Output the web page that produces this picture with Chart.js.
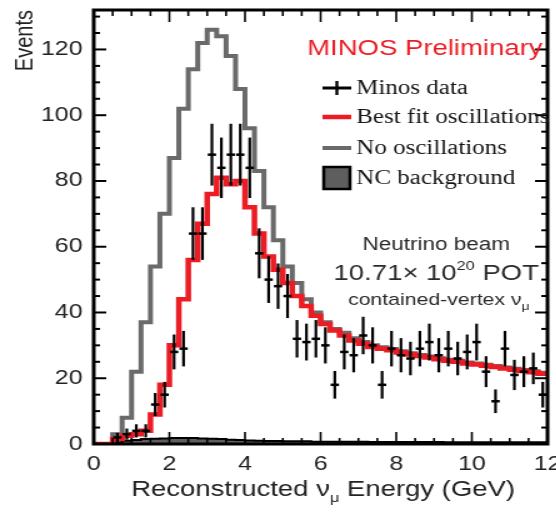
<!DOCTYPE html>
<html>
<head>
<meta charset="utf-8">
<script src="https://cdn.jsdelivr.net/npm/chart.js"></script>
<style>
    html, body { margin: 0; padding: 0; overflow: hidden; background: #fff; }
    /* the reference figure is stretched sideways, so the whole drawing is too */
    canvas { display: block; transform: scaleX(1.25); transform-origin: 0 0; }
</style>
</head>
<body>
<canvas id="myChart" width="460" height="514"></canvas>
<script>
// histogram bin edges, reconstructed energy (GeV)
var binEdges = [0, 0.25, 0.5, 0.75, 1, 1.25, 1.5, 1.75, 2, 2.25, 2.5, 2.75, 3, 3.25, 3.5, 3.75,
    4, 4.25, 4.5, 4.75, 5, 5.25, 5.5, 5.75, 6, 6.25, 6.5, 6.75, 7, 7.25, 7.5, 7.75,
    8, 8.25, 8.5, 8.75, 9, 9.25, 9.5, 9.75, 10, 10.25, 10.5, 10.75, 11, 11.25, 11.5, 11.75, 12];

// events per bin
var noOscillations = [0, 0, 3, 8, 22, 37, 54, 70, 87, 102, 114, 122, 126, 124, 118, 108,
    96, 83, 72, 62, 54, 49, 44, 40, 37, 35, 33.8, 32.2, 31, 30, 29.4, 28.9,
    28.2, 27.6, 27.1, 26.6, 26.1, 25.6, 25.3, 24.8, 24.5, 24.1, 23.7, 23.3, 22.9, 22.5, 22.1, 21.7];
var bestFit = [0, 0, 1.5, 2.5, 3, 4, 9, 18, 30, 44, 56, 67, 76, 81, 79, 80,
    72, 64, 57, 53, 49, 45, 42, 39, 36.5, 34.5, 33, 31.5, 30.5, 29.5, 29, 28.5,
    27.8, 27.2, 26.8, 26.3, 25.8, 25.3, 25, 24.5, 24.2, 23.8, 23.4, 23, 22.6, 22.2, 21.8, 21.4];
var ncBackground = [0, 0, 0.5, 1, 1.2, 1.5, 1.6, 1.7, 1.8, 1.8, 1.8, 1.7, 1.6, 1.5, 1.3, 1.2,
    1.1, 1, 0.9, 0.9, 0.8, 0.8, 0.8, 0.7, 0.7, 0.7, 0.7, 0.7, 0.7, 0.6, 0.6, 0.6,
    0.6, 0.6, 0.6, 0.6, 0.6, 0.5, 0.5, 0.5, 0.5, 0.5, 0.5, 0.5, 0.5, 0.5, 0.5, 0.5];

// MINOS data points
var dataEnergy = [0.625, 0.875, 1.125, 1.375, 1.625, 1.875, 2.125, 2.375, 2.625, 2.875, 3.125, 3.375,
    3.625, 3.875, 4.125, 4.375, 4.625, 4.875, 5.125, 5.375, 5.625, 5.875, 6.125, 6.375,
    6.625, 6.875, 7.125, 7.375, 7.625, 7.875, 8.125, 8.375, 8.625, 8.875, 9.125, 9.375,
    9.625, 9.875, 10.125, 10.375, 10.625, 10.875, 11.125, 11.375, 11.625, 11.875];
var dataEvents = [2, 3, 4, 4, 12, 15, 28, 29, 64, 64, 88, 84,
    88, 88, 84, 58, 50, 48, 45, 32, 31, 32, 30, 18,
    28, 27, 33, 30, 18, 29, 27, 26, 29, 31, 27, 29,
    26, 28, 31, 22, 13, 29, 21, 22, 23, 15];
var dataErrors = [1.4, 1.7, 2, 2, 3.5, 3.9, 5.3, 5.4, 8, 8, 9.4, 9.2,
    9.4, 9.4, 9.2, 7.6, 7.1, 6.9, 6.7, 5.7, 5.6, 5.7, 5.5, 4.2,
    5.3, 5.2, 5.7, 5.5, 4.2, 5.4, 5.2, 5.1, 5.4, 5.6, 5.2, 5.4,
    5.1, 5.3, 5.6, 4.7, 3.6, 5.4, 4.6, 4.7, 4.8, 3.9];

var xTickLabels = [0, 2, 4, 6, 8, 10, 12];
var yTickLabels = [0, 20, 40, 60, 80, 100, 120];

var RED = '#ec1c24';
var GREY = '#6a6a6a';
var SANS = '"Liberation Sans", Arial, Helvetica, sans-serif';
var SERIF = '"Liberation Serif", "Times New Roman", serif';

function toSteps(values) {
    var pts = [];
    for (var i = 0; i < values.length; i++) {
        pts.push({ x: binEdges[i], y: values[i] });
    }
    pts.push({ x: binEdges[values.length], y: values[values.length - 1] });
    return pts;
}

function line(ctx, x1, y1, x2, y2) {
    ctx.beginPath();
    ctx.moveTo(x1, y1);
    ctx.lineTo(x2, y2);
    ctx.stroke();
}

// error-bar crosses, frame with inward ticks, legend and labels
var decorations = {
    id: 'decorations',
    afterDatasetsDraw: function (chart) {
        var ctx = chart.ctx, a = chart.chartArea;
        var xs = chart.scales.x, ys = chart.scales.y;
        ctx.save();

        ctx.strokeStyle = '#000';
        ctx.lineWidth = 2.5;
        for (var i = 0; i < dataEnergy.length; i++) {
            var px = xs.getPixelForValue(dataEnergy[i]);
            var py = ys.getPixelForValue(dataEvents[i]);
            line(ctx, xs.getPixelForValue(dataEnergy[i] - 0.11), py, xs.getPixelForValue(dataEnergy[i] + 0.11), py);
            ctx.lineWidth = 2.2;
            line(ctx, px, ys.getPixelForValue(dataEvents[i] - dataErrors[i]), px, ys.getPixelForValue(dataEvents[i] + dataErrors[i]));
            ctx.lineWidth = 2.5;
        }

        // frame
        ctx.lineWidth = 3;
        ctx.strokeRect(a.left, a.top, a.right - a.left, a.bottom - a.top);
        ctx.lineWidth = 2;
        for (var e = 0; e <= 12; e += 0.5) {
            var tx = xs.getPixelForValue(e);
            var len = (e % 2 === 0) ? 12 : 6;
            ctx.lineWidth = 1.6;
            line(ctx, tx, a.bottom, tx, a.bottom - len);
            line(ctx, tx, a.top, tx, a.top + len);
        }
        ctx.lineWidth = 2;
        for (var v = 0; v <= 130; v += 5) {
            var ty = ys.getPixelForValue(v);
            var l2 = (v % 20 === 0) ? 10 : 5;
            line(ctx, a.left, ty, a.left + l2, ty);
            line(ctx, a.right, ty, a.right - l2, ty);
        }

        // MINOS Preliminary
        ctx.fillStyle = RED;
        ctx.font = '22px ' + SANS;
        ctx.textAlign = 'right';
        ctx.textBaseline = 'middle';
        ctx.fillText('MINOS Preliminary', a.right - 4, a.top + 39);

        // legend
        var sx = a.right - 180, sw = 23, tx0 = a.right - 153;
        var rows = [a.top + 78, a.top + 107, a.top + 138, a.top + 168];
        ctx.strokeStyle = '#000';
        ctx.lineWidth = 3;
        line(ctx, sx, rows[0], sx + sw, rows[0]);
        ctx.lineWidth = 2.4;
        line(ctx, sx + sw / 2, rows[0] - 7, sx + sw / 2, rows[0] + 7);
        ctx.strokeStyle = RED;
        ctx.lineWidth = 4.5;
        line(ctx, sx, rows[1], sx + sw, rows[1]);
        ctx.strokeStyle = GREY;
        ctx.lineWidth = 4;
        line(ctx, sx, rows[2], sx + sw, rows[2]);
        ctx.fillStyle = '#5e5e5e';
        ctx.fillRect(sx + 1, rows[3] - 11, sw - 2, 22);
        ctx.strokeStyle = '#000';
        ctx.lineWidth = 2.5;
        ctx.strokeRect(sx + 1, rows[3] - 11, sw - 2, 22);

        ctx.fillStyle = '#151515';
        ctx.font = '20px ' + SERIF;
        ctx.textAlign = 'left';
        var names = ['Minos data', 'Best fit oscillations', 'No oscillations', 'NC background'];
        for (var r = 0; r < names.length; r++) {
            ctx.fillText(names[r], tx0, rows[r] + 1);
        }

        // beam annotation
        var cx = a.right - 89;
        ctx.fillStyle = '#2a2a2a';
        ctx.textAlign = 'center';
        ctx.font = '18px ' + SANS;
        ctx.fillText('Neutrino beam', cx, a.top + 235);

        var big = '22px ' + SANS, sup = '13px ' + SANS;
        ctx.font = big;
        var w1 = ctx.measureText('10.71\u00d7 10').width;
        var w3 = ctx.measureText(' POT').width;
        ctx.font = sup;
        var w2 = ctx.measureText('20').width;
        var x0 = cx - (w1 + w2 + w3) / 2, y0 = a.top + 264;
        ctx.textAlign = 'left';
        ctx.font = big;
        ctx.fillText('10.71\u00d7 10', x0, y0);
        ctx.fillText(' POT', x0 + w1 + w2, y0);
        ctx.font = sup;
        ctx.fillText('20', x0 + w1, y0 - 8);

        ctx.font = '17px ' + SANS;
        var wc = ctx.measureText('contained-vertex \u03bd').width;
        ctx.font = '11px ' + SANS;
        var wm = ctx.measureText('\u03bc').width;
        var xc = cx - (wc + wm) / 2 + 2;
        ctx.font = '17px ' + SANS;
        ctx.fillText('contained-vertex \u03bd', xc, a.top + 290);
        ctx.font = '11px ' + SANS;
        ctx.fillText('\u03bc', xc + wc, a.top + 297);

        // x axis title with subscript
        ctx.fillStyle = '#222';
        var t1 = 'Reconstructed \u03bd', t2 = '\u03bc', t3 = ' Energy (GeV)';
        ctx.font = '22px ' + SANS;
        var q1 = ctx.measureText(t1).width, q3 = ctx.measureText(t3).width;
        ctx.font = '13px ' + SANS;
        var q2 = ctx.measureText(t2).width;
        var bx = (a.left + a.right) / 2 + 2 - (q1 + q2 + q3) / 2, by = a.bottom + 46;
        ctx.font = '22px ' + SANS;
        ctx.fillText(t1, bx, by);
        ctx.fillText(t3, bx + q1 + q2, by);
        ctx.font = '13px ' + SANS;
        ctx.fillText(t2, bx + q1, by + 8);

        ctx.restore();
    }
};

Chart.defaults.font.family = SANS;

var ctx = document.getElementById('myChart').getContext('2d');
var chart = new Chart(ctx, {
    type: 'line',
    data: {
        datasets: [
            {
                label: 'Best fit oscillations',
                data: toSteps(bestFit),
                stepped: true,
                borderColor: RED,
                borderWidth: 4.5,
                pointRadius: 0,
                fill: false,
                order: 0
            },
            {
                label: 'No oscillations',
                data: toSteps(noOscillations),
                stepped: true,
                borderColor: GREY,
                borderWidth: 4,
                pointRadius: 0,
                fill: false,
                order: 1
            },
            {
                label: 'NC background',
                data: toSteps(ncBackground),
                stepped: true,
                borderColor: '#000',
                backgroundColor: '#5e5e5e',
                borderWidth: 2,
                pointRadius: 0,
                fill: 'origin',
                order: 2
            }
        ]
    },
    options: {
        responsive: false,
        animation: false,
        layout: { padding: { top: 10, right: 22, left: 0, bottom: 0 } },
        plugins: { legend: { display: false }, tooltip: { enabled: false } },
        scales: {
            x: {
                type: 'linear',
                min: 0,
                max: 12,
                afterBuildTicks: function (s) { s.ticks = xTickLabels.map(function (v) { return { value: v }; }); },
                afterFit: function (s) { s.height = 70; s.paddingLeft = 0; s.paddingRight = 0; },
                ticks: { font: { size: 20 }, color: '#222', padding: 8, maxRotation: 0 },
                grid: { display: false, drawTicks: false },
                border: { display: false }
            },
            y: {
                min: 0,
                max: 132,
                afterBuildTicks: function (s) { s.ticks = yTickLabels.map(function (v) { return { value: v }; }); },
                afterFit: function (s) { s.width = 75; s.paddingTop = 0; s.paddingBottom = 0; },
                ticks: { font: { size: 20 }, color: '#222', padding: 9 },
                grid: { display: false, drawTicks: false },
                border: { display: false },
                title: { display: true, text: 'Events', align: 'end', font: { size: 20 }, color: '#222', padding: { top: 8, bottom: 0 } }
            }
        }
    },
    plugins: [decorations]
});
</script>
</body>
</html>
